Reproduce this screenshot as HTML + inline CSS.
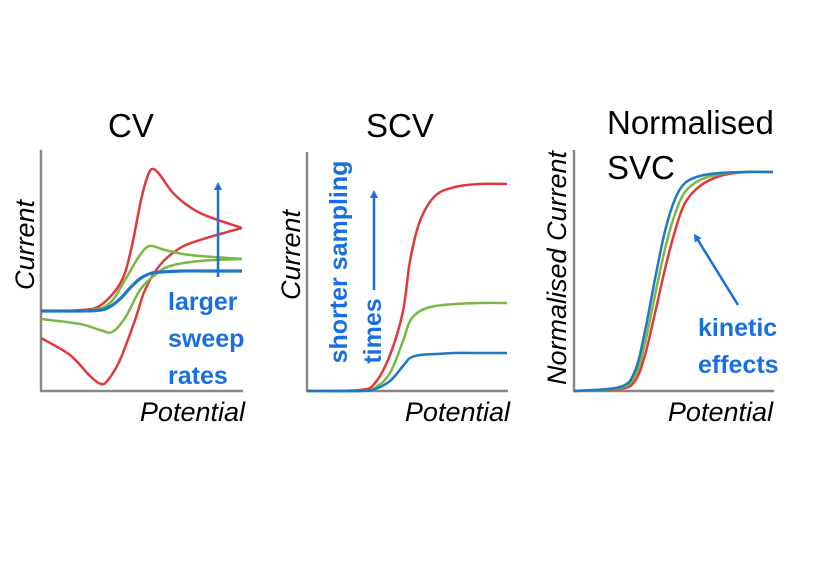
<!DOCTYPE html>
<html><head><meta charset="utf-8">
<style>
html,body{margin:0;padding:0;background:#fff;}
svg{display:block;font-family:"Liberation Sans",sans-serif;}
.t{font-size:33px;fill:#000;}
.ax{font-size:27px;font-style:italic;fill:#000;}
.bl{font-size:25px;font-weight:bold;fill:#1a6fe0;}
</style></head>
<body>
<svg id="chart" width="814" height="582" viewBox="0 0 814 582">
<defs><marker id="ah" markerWidth="8" markerHeight="8" refX="4" refY="4" orient="auto" markerUnits="userSpaceOnUse" viewBox="0 0 8 8"><path d="M0,0 L8,4 L0,8 Z" fill="#1a6fe0"/></marker></defs>
<g>
 <text class="t" x="108" y="137">CV</text>
 <line x1="41" y1="150" x2="41" y2="391" stroke="#888" stroke-width="2.5"/>
 <line x1="40" y1="391" x2="243" y2="391" stroke="#888" stroke-width="2.5"/>
 <text class="ax" transform="translate(34,245) rotate(-90)" text-anchor="middle">Current</text>
 <text class="ax" x="245" y="421" text-anchor="end">Potential</text>
 <g id="p1"></g>
 <line x1="218" y1="277" x2="218" y2="186" stroke="#1a6fe0" stroke-width="2.5" marker-end="url(#ah)"/>
 <text class="bl" x="168" y="310"><tspan x="168">larger</tspan><tspan x="168" dy="37">sweep</tspan><tspan x="168" dy="37">rates</tspan></text>
</g>
<g>
 <text class="t" x="366" y="137">SCV</text>
 <line x1="307" y1="152" x2="307" y2="391" stroke="#888" stroke-width="2.5"/>
 <line x1="306" y1="391" x2="508" y2="391" stroke="#888" stroke-width="2.5"/>
 <text class="ax" transform="translate(300,255) rotate(-90)" text-anchor="middle">Current</text>
 <text class="ax" x="510" y="421" text-anchor="end">Potential</text>
 <g id="p2"></g>
 <text class="bl" transform="translate(347,262) rotate(-90)" text-anchor="middle">shorter sampling</text>
 <text class="bl" transform="translate(381,331) rotate(-90)" text-anchor="middle">times</text>
 <line x1="374" y1="290" x2="374" y2="194" stroke="#1a6fe0" stroke-width="2.5" marker-end="url(#ah)"/>
</g>
<g>
 <text class="t" x="607" y="134">Normalised</text>
 <text class="t" x="607" y="179">SVC</text>
 <line x1="574" y1="150" x2="574" y2="391" stroke="#888" stroke-width="2.5"/>
 <line x1="573" y1="391" x2="774" y2="391" stroke="#888" stroke-width="2.5"/>
 <text class="ax" transform="translate(566,268) rotate(-90)" text-anchor="middle">Normalised Current</text>
 <text class="ax" x="773" y="421" text-anchor="end">Potential</text>
 <g id="p3"></g>
 <line x1="738" y1="305" x2="696" y2="237" stroke="#1a6fe0" stroke-width="2.5" marker-end="url(#ah)"/>
 <text class="bl" x="698" y="336"><tspan x="698">kinetic</tspan><tspan x="698" dy="37">effects</tspan></text>
</g>
</svg>
<script>
// CV panel data (potential offset, current)
const cvBlueX=[0,40,60,70,80,90,100,111,121,141,161,201];
const cvBlueY=[80,80,81,85,93,104,113,118,119,120,120,120];
const cvRedFwdX=[0,40,60,80,90,100,107,112,119,134,159,201];
const cvRedFwdY=[80,81,86,109,141,191,216,222,216,196,178,163];
const cvRedRevX=[201,179,159,139,119,104,94,79,67,60,49,29,0];
const cvRedRevY=[163,157,151,143,126,101,71,31,11,7,15,36,53];
const cvGreenFwdX=[0,49,69,84,99,109,124,149,201];
const cvGreenFwdY=[80,81,88,111,136,145,141,136,132];
const cvGreenRevX=[201,159,129,114,99,84,71,59,39,0];
const cvGreenRevY=[132,130,125,116,101,73,59,61,67,72];
// SCV data
const scvX=[0,53,68,83,96,103,113,128,148,173,200];
const scvRed=[0,1,8,36,80,130,170,195,204,207,207];
const scvGreen=[0,0,3,18,50,70,80,85,87,88,88];
const scvBlue=[0,0,2,10,25,33,36,37,38,38,38];
// Normalised data
const nX=[0,46,61,71,81,91,101,111,126,146,171,199];
const nBlue=[0,4,20,60,112,160,192,208,215,218,219,219];
const nGreen=[0,3,15,48,96,142,177,199,211,217,219,219];
const nRed=[0,2,10,36,78,122,160,188,205,215,219,219];

function path(xs,ys,ox,oy){
  const p=xs.map((x,i)=>[ox+x,oy-ys[i]]);
  let d='M'+p[0][0]+','+p[0][1];
  for(let i=0;i<p.length-1;i++){
    const p0=p[i-1]||p[i],p1=p[i],p2=p[i+1],p3=p[i+2]||p2;
    const c1=[p1[0]+(p2[0]-p0[0])/6,p1[1]+(p2[1]-p0[1])/6];
    const c2=[p2[0]-(p3[0]-p1[0])/6,p2[1]-(p3[1]-p1[1])/6];
    d+=` C${c1[0].toFixed(1)},${c1[1].toFixed(1)} ${c2[0].toFixed(1)},${c2[1].toFixed(1)} ${p2[0]},${p2[1]}`;
  }
  return d;
}
const NS='http://www.w3.org/2000/svg';
function draw(g,xs,ys,ox,color,name,w){
  const el=document.createElementNS(NS,'path');
  el.setAttribute('d',path(xs,ys,ox,391));
  el.setAttribute('fill','none');
  el.setAttribute('stroke',color);
  el.setAttribute('stroke-width',w||2.5);
  el.setAttribute('stroke-linejoin','round');
  
  
  document.getElementById(g).appendChild(el);
}
const R='#e0393b',G='#7ab844',B='#1f78c4';
draw('p1',cvRedFwdX,cvRedFwdY,41,R,'cv-red-forward');
draw('p1',cvRedRevX,cvRedRevY,41,R,'cv-red-reverse');
draw('p1',cvGreenFwdX,cvGreenFwdY,41,G,'cv-green-forward');
draw('p1',cvGreenRevX,cvGreenRevY,41,G,'cv-green-reverse');
draw('p1',cvBlueX,cvBlueY,41,B,'cv-blue',3.2);
draw('p2',scvX,scvRed,307,R,'scv-red');
draw('p2',scvX,scvGreen,307,G,'scv-green');
draw('p2',scvX,scvBlue,307,B,'scv-blue');
draw('p3',nX,nRed,574,R,'norm-red');
draw('p3',nX,nGreen,574,G,'norm-green');
draw('p3',nX,nBlue,574,B,'norm-blue');
</script>
</body></html>
